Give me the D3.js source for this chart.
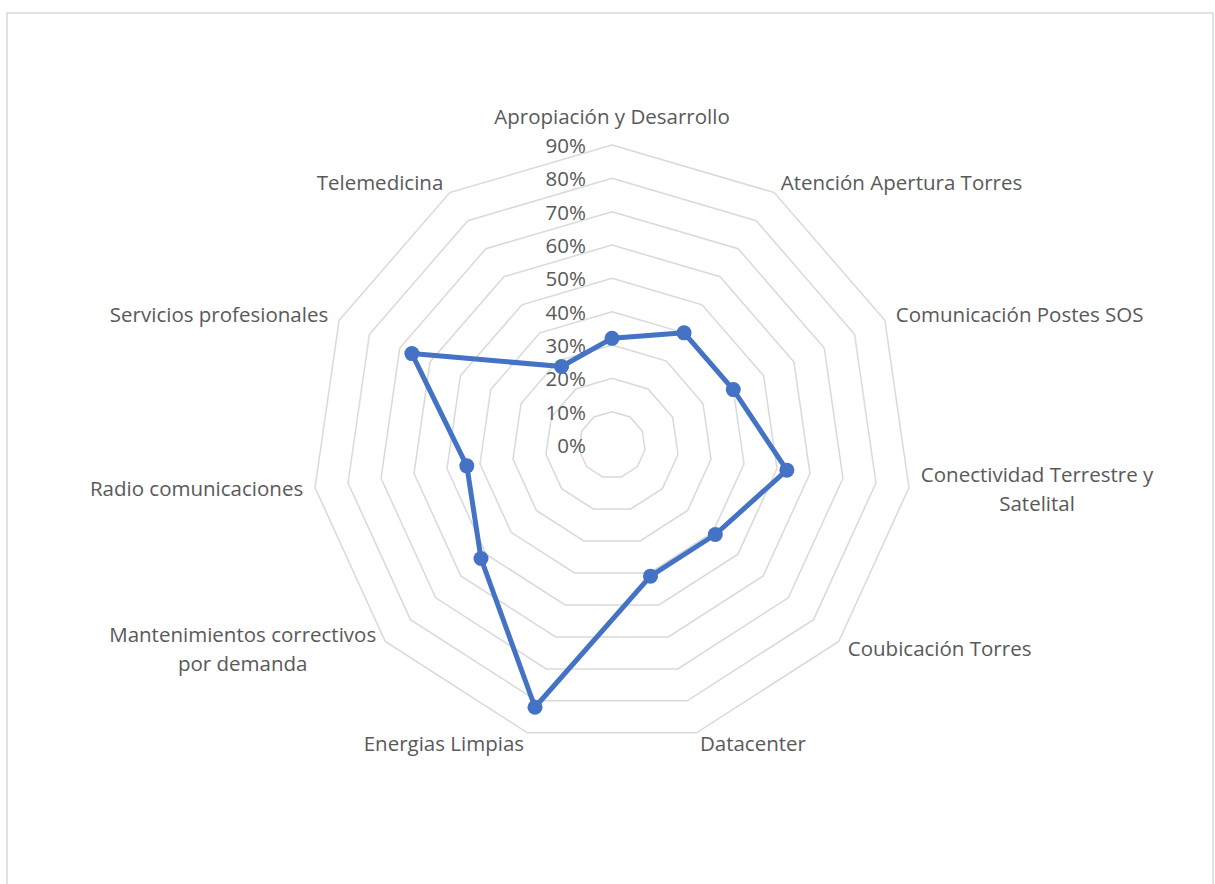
<!DOCTYPE html>
<html>
<head>
<meta charset="utf-8">
<script src="https://cdn.jsdelivr.net/npm/d3@7"></script>
<style>
	body { margin: 0; background: #fff; }
	svg text { font-family: "Open Sans", Lato, sans-serif; fill: #595959; }
</style>
</head>
<body>
<svg width="1215" height="884"></svg>
<script>
// categories, clockwise from the top
var categories = [
	['Apropiación y Desarrollo'],
	['Atención Apertura Torres'],
	['Comunicación Postes SOS'],
	['Conectividad Terrestre y', 'Satelital'],
	['Coubicación Torres'],
	['Datacenter'],
	['Energias Limpias'],
	['Mantenimientos correctivos', 'por demanda'],
	['Radio comunicaciones'],
	['Servicios profesionales'],
	['Telemedicina']
];
var values = [0.32, 0.40, 0.40, 0.53, 0.41, 0.41, 0.82, 0.52, 0.44, 0.66, 0.28];
var ticks = [0, 0.1, 0.2, 0.3, 0.4, 0.5, 0.6, 0.7, 0.8, 0.9];

var svg = d3.select('svg'),
	cx = 612,
	cy = 445,
	radius = 300,
	n = categories.length,
	fontSize = '20.5px';

// chart frame
svg.append('rect')
	.attr('x', 7).attr('y', 13)
	.attr('width', 1206).attr('height', 900)
	.attr('fill', '#fff')
	.attr('stroke', '#d9d9d9')
	.attr('stroke-width', 1.5);

var r = d3.scaleLinear().domain([0, 0.9]).range([0, radius]);
var angle = function(i) { return i * 2 * Math.PI / n; };
var pt = function(i, v) {
	return [cx + r(v) * Math.sin(angle(i)), cy - r(v) * Math.cos(angle(i))];
};

var g = svg.append('g');

// rings
g.selectAll('.ring')
	.data(ticks.filter(function(t) { return t > 0; }))
	.enter().append('polygon')
	.attr('class', 'ring')
	.attr('points', function(t) {
		return d3.range(n).map(function(i) { return pt(i, t).join(','); }).join(' ');
	})
	.attr('fill', 'none')
	.attr('stroke', '#d9d9d9')
	.attr('stroke-width', 1.5);

// tick labels
g.selectAll('.tick')
	.data(ticks)
	.enter().append('text')
	.attr('class', 'tick')
	.attr('x', cx - 26)
	.attr('y', function(t) { return cy - r(t) + 8; })
	.attr('text-anchor', 'end')
	.style('font-size', fontSize)
	.text(d3.format('.0%'));

// series
var line = d3.line().curve(d3.curveLinearClosed);
g.append('path')
	.datum(values.map(function(v, i) { return pt(i, v); }))
	.attr('d', line)
	.attr('fill', 'none')
	.attr('stroke', '#4472c4')
	.attr('stroke-width', 5)
	.attr('stroke-linejoin', 'round');

g.selectAll('.dot')
	.data(values)
	.enter().append('circle')
	.attr('class', 'dot')
	.attr('cx', function(v, i) { return pt(i, v)[0]; })
	.attr('cy', function(v, i) { return pt(i, v)[1]; })
	.attr('r', 7.5)
	.attr('fill', '#4472c4');

// category labels
var lineH = 29;
categories.forEach(function(lines, i) {
	var a = angle(i),
		s = Math.sin(a),
		px = cx + (radius + 12) * s,
		py = cy - (radius + 12) * Math.cos(a);
	if (i === 0) py -= 16;

	var t = g.append('text')
		.attr('class', 'cat')
		.style('font-size', fontSize);
	lines.forEach(function(l) {
		t.append('tspan').text(l);
	});
	var w = 0;
	t.selectAll('tspan').each(function() { w = Math.max(w, this.getComputedTextLength()); });

	var mx;
	if (Math.abs(s) < 0.01) mx = px;
	else if (s > 0) mx = px + w / 2;
	else mx = px - w / 2;

	var top = py - (lines.length - 1) * lineH / 2;
	t.selectAll('tspan')
		.attr('x', mx)
		.attr('y', function(d, k) { return top + k * lineH + 7; })
		.attr('text-anchor', 'middle');
});
</script>
</body>
</html>
